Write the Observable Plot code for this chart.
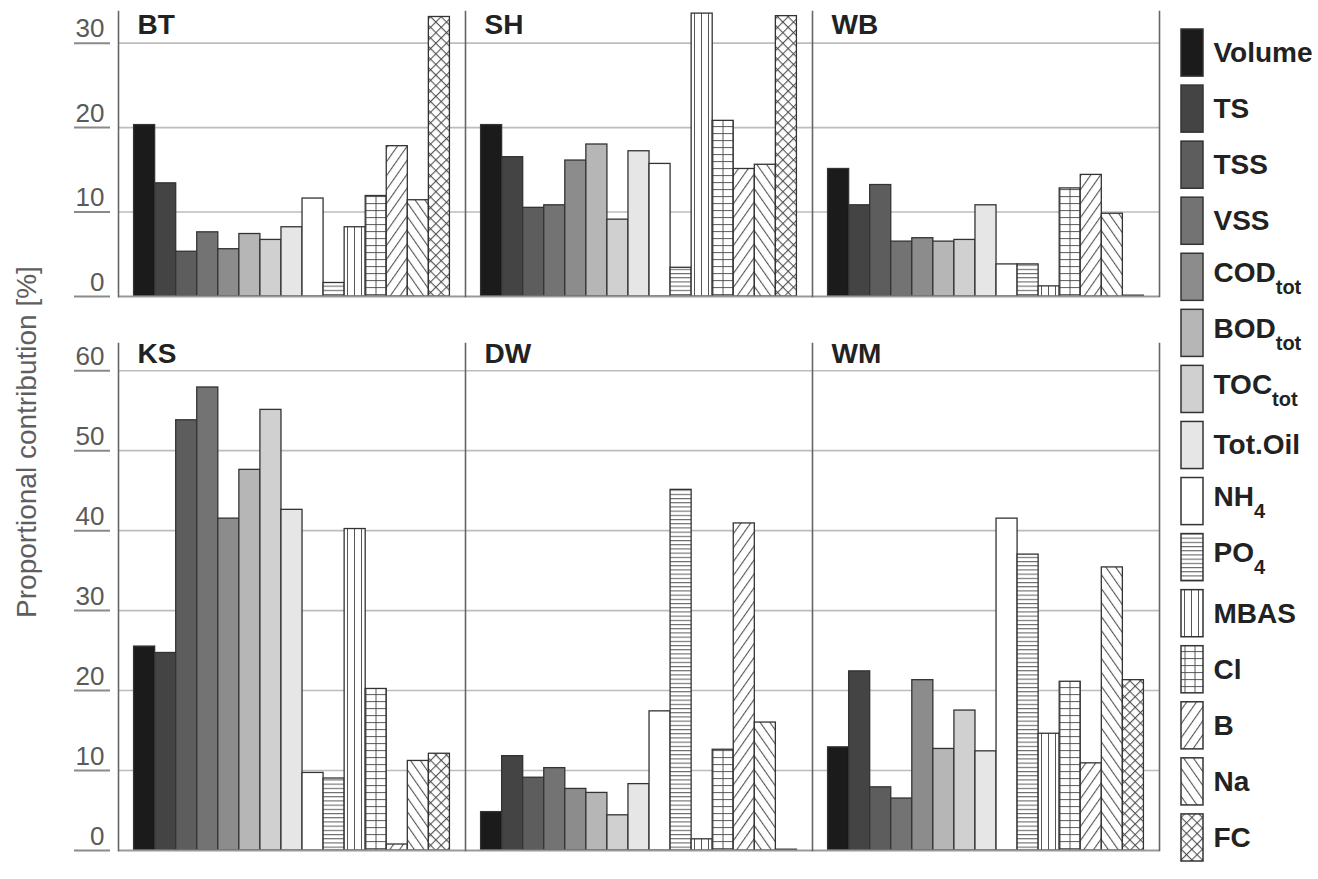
<!DOCTYPE html>
<html>
<head>
<meta charset="utf-8">
<script src="https://cdn.jsdelivr.net/npm/d3@7"></script>
<script src="https://cdn.jsdelivr.net/npm/@observablehq/plot@0.6"></script>
<style>
  body { margin: 0; background: #fff; font-family: "Liberation Sans", Arial, sans-serif; }
  #wrap { position: relative; width: 1318px; height: 879px; overflow: hidden; background: #fff; }
  #top { position: absolute; left: 0; top: 0; }
  #bot { position: absolute; left: 0; top: 330px; }
  #legend { position: absolute; left: 1160px; top: 0; }
  #ytitle { position: absolute; left: 27px; top: 442px; transform: translate(-50%, -50%) rotate(-90deg);
            white-space: nowrap; font-size: 28px; color: #5e5e5e; font-family: "Liberation Sans", Arial, sans-serif; }
</style>
</head>
<body>
<svg width="0" height="0" style="position:absolute">
  <defs>
    <pattern id="pPO4" patternUnits="userSpaceOnUse" width="8" height="4.2">
      <rect width="8" height="4.2" fill="#fff"/>
      <line x1="0" x2="8" y1="0.6" y2="0.6" stroke="#444" stroke-width="0.9"/>
    </pattern>
    <pattern id="pMBAS" patternUnits="userSpaceOnUse" width="7" height="8">
      <rect width="7" height="8" fill="#fff"/>
      <line x1="3.5" x2="3.5" y1="0" y2="8" stroke="#444" stroke-width="0.9"/>
    </pattern>
    <pattern id="pCl" patternUnits="userSpaceOnUse" width="10" height="7">
      <rect width="10" height="7" fill="#fff"/>
      <line x1="0" x2="10" y1="0.6" y2="0.6" stroke="#444" stroke-width="0.9"/>
      <line x1="5" x2="5" y1="0" y2="7" stroke="#444" stroke-width="0.9"/>
    </pattern>
    <pattern id="pB" patternUnits="userSpaceOnUse" width="8" height="8" patternTransform="rotate(35)">
      <rect width="8" height="8" fill="#fff"/>
      <line x1="0.6" x2="0.6" y1="0" y2="8" stroke="#444" stroke-width="1"/>
    </pattern>
    <pattern id="pNa" patternUnits="userSpaceOnUse" width="8" height="8" patternTransform="rotate(-35)">
      <rect width="8" height="8" fill="#fff"/>
      <line x1="0.6" x2="0.6" y1="0" y2="8" stroke="#444" stroke-width="1"/>
    </pattern>
    <pattern id="pFC" patternUnits="userSpaceOnUse" width="7.5" height="7.5" patternTransform="rotate(45)">
      <rect width="7.5" height="7.5" fill="#fff"/>
      <line x1="0.6" x2="0.6" y1="0" y2="7.5" stroke="#444" stroke-width="1"/>
      <line x1="0" x2="7.5" y1="0.6" y2="0.6" stroke="#444" stroke-width="1"/>
    </pattern>
  </defs>
</svg>
<div id="wrap">
  <div id="top"></div>
  <div id="bot"></div>
  <div id="legend"></div>
  <div id="ytitle">Proportional contribution [%]</div>
</div>
<script>
// ---------- data ----------
const variables = ["Volume","TS","TSS","VSS","CODtot","BODtot","TOCtot","Tot.Oil","NH4","PO4","MBAS","Cl","B","Na","FC"];
const legendMain = ["Volume","TS","TSS","VSS","COD","BOD","TOC","Tot.Oil","NH","PO","MBAS","Cl","B","Na","FC"];
const legendSub  = ["","","","","tot","tot","tot","","4","4","","","","",""];

const topSites = ["BT","SH","WB"];
const bottomSites = ["KS","DW","WM"];

const valuesBT = [20.3, 13.4, 5.3, 7.6, 5.6, 7.4, 6.7, 8.2, 11.6, 1.6, 8.2, 11.9, 17.8, 11.4, 33.1];
const valuesSH = [20.3, 16.5, 10.5, 10.8, 16.1, 18.0, 9.1, 17.2, 15.7, 3.4, 33.5, 20.8, 15.1, 15.6, 33.2];
const valuesWB = [15.1, 10.8, 13.2, 6.5, 6.9, 6.5, 6.7, 10.8, 3.8, 3.8, 1.2, 12.8, 14.4, 9.8, 0.1];
const valuesKS = [25.5, 24.7, 53.8, 57.9, 41.5, 47.6, 55.1, 42.6, 9.7, 9.0, 40.2, 20.2, 0.75, 11.2, 12.1];
const valuesDW = [4.8, 11.8, 9.1, 10.3, 7.7, 7.2, 4.4, 8.3, 17.4, 45.1, 1.4, 12.6, 40.9, 16.0, 0.1];
const valuesWM = [12.9, 22.4, 7.9, 6.5, 21.3, 12.7, 17.5, 12.4, 41.5, 37.0, 14.6, 21.1, 10.9, 35.4, 21.3];

const topTicks = [0, 10, 20, 30];
const bottomTicks = [0, 10, 20, 30, 40, 50, 60];

// fills (grey shades and hatch patterns)
const fills = ["#1b1b1b","#444444","#5d5d5d","#737373","#8c8c8c","#b6b6b6","#d0d0d0","#e6e6e6","#ffffff",
               "url(#pPO4)","url(#pMBAS)","url(#pCl)","url(#pB)","url(#pNa)","url(#pFC)"];

function rows(site, vals) { return vals.map((v, i) => ({site, variable: variables[i], value: v})); }
const topData = [...rows("BT", valuesBT), ...rows("SH", valuesSH), ...rows("WB", valuesWB)];
const bottomData = [...rows("KS", valuesKS), ...rows("DW", valuesDW), ...rows("WM", valuesWM)];

const FONT = "'Liberation Sans', Arial, sans-serif";

function panelRow(data, sites, ticks, ymax, height, marginTop, marginBottom, labelDy) {
  return Plot.plot({
    width: 1170, height, marginLeft: 117, marginRight: 10, marginTop, marginBottom,
    style: {fontFamily: FONT, background: "transparent", overflow: "visible"},
    fx: {domain: sites, padding: 0, axis: null},
    x: {domain: variables, paddingInner: 0, paddingOuter: 0.74, round: false, axis: null},
    y: {domain: [0, ymax], axis: null},
    color: {domain: variables, range: fills},
    marks: [
      Plot.gridY(ticks.filter(t => t > 0), {stroke: "#bdbdbd", strokeOpacity: 1, strokeWidth: 1.6}),
      Plot.barY(data, {fx: "site", x: "variable", y: "value", fill: "variable",
                       stroke: "#333", strokeWidth: 1.3, inset: 0}),
      Plot.ruleY([0], {stroke: "#999", strokeWidth: 2.2}),
      Plot.frame({anchor: "left", stroke: "#666", strokeWidth: 1.6}),
      Plot.frame({anchor: "right", facetAnchor: "right", stroke: "#666", strokeWidth: 1.6}),
      Plot.axisY(ticks, {tickSize: 36, dx: -8, fill: "none", stroke: "#8a8a8a", strokeWidth: 2, label: null}),
      Plot.axisY(ticks, {tickSize: 0, tickPadding: 0, dx: -14, dy: -14, stroke: "none", fill: "#5a5a5a",
                         fontSize: 26, label: null}),
      Plot.text(sites, {fx: d => d, text: d => d, frameAnchor: "top-left", dx: 19, dy: labelDy,
                        lineAnchor: "top", textAnchor: "start", fontSize: 28, fontWeight: "bold", fill: "#222"})
    ]
  });
}

document.getElementById("top").append(panelRow(topData, topSites, topTicks, 33.75, 300, 11, 4, 3));
document.getElementById("bot").append(panelRow(bottomData, bottomSites, bottomTicks, 63.4, 530, 13, 10, 0));

// ---------- legend ----------
const legend = Plot.plot({
  width: 158, height: 879, margin: 0,
  style: {fontFamily: FONT, background: "transparent", overflow: "visible"},
  x: {type: "band", domain: ["sw"], range: [21, 43], padding: 0, round: false, axis: null},
  y: {type: "band", domain: variables, range: [29, 861], paddingInner: 0.16, paddingOuter: 0, round: false, axis: null},
  color: {domain: variables, range: fills},
  marks: [
    Plot.cell(variables, {x: () => "sw", y: d => d, fill: d => d, stroke: "#333", strokeWidth: 1.5, inset: 0}),
    Plot.text(variables, {x: () => "sw", y: d => d, text: (d, i) => legendMain[i], dx: 21,
                          textAnchor: "start", fontSize: 28, fontWeight: "bold", fill: "#222"})
  ]
});
document.getElementById("legend").append(legend);

// subscripts in legend labels
d3.select(legend).selectAll("text").each(function () {
  const i = legendMain.indexOf(this.textContent);
  if (i < 0 || !legendSub[i]) return;
  const t = d3.select(this);
  t.text(null);
  t.append("tspan").attr("dy", "-0.15em").text(legendMain[i]);
  t.append("tspan").attr("dy", "0.6em").attr("font-size", "20px").text(legendSub[i]);
});
</script>
</body>
</html>
